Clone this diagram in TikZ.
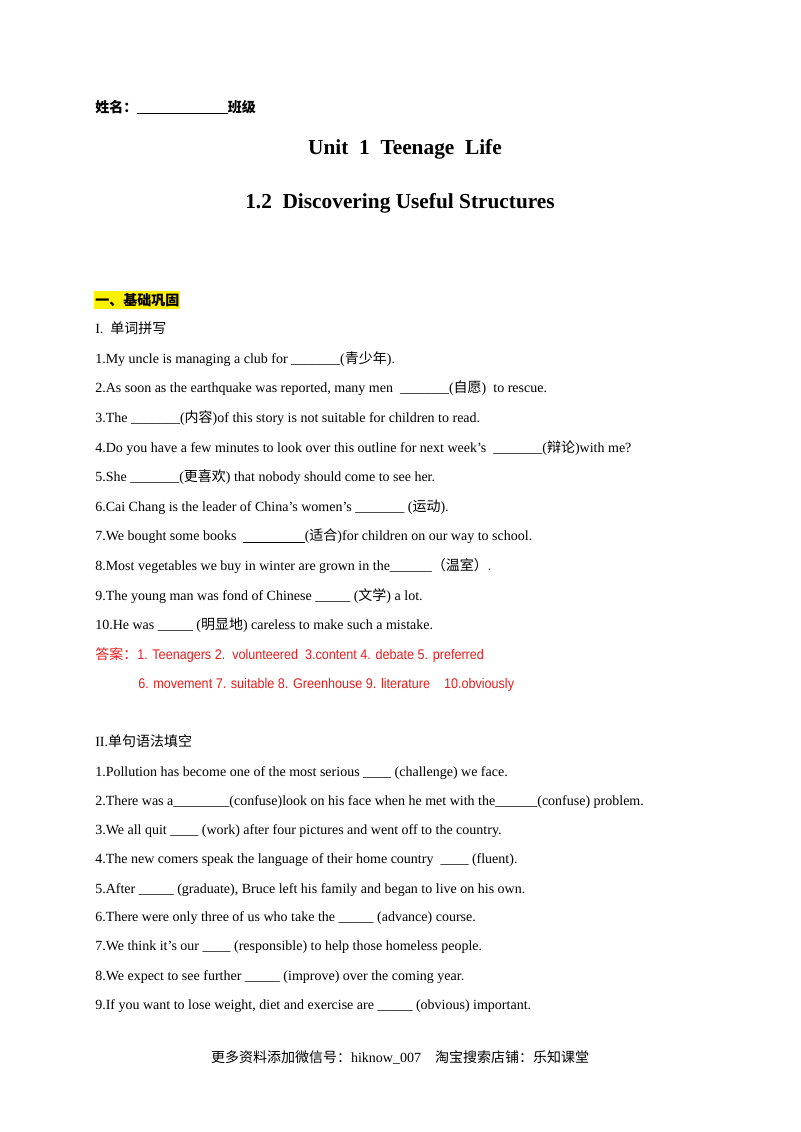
\documentclass[tikz,border=0pt]{standalone}
\usepackage{fontspec}
\setmainfont{Liberation Serif}
\newfontfamily\cjk{Noto Sans CJK SC}
\newfontfamily\arial[FakeStretch=0.9]{Liberation Sans}
\newcommand{\zh}[1]{{\cjk #1}}
\newcommand{\apos}{{\char"27}}
\begin{document}
\begin{tikzpicture}[x=0.75pt,y=-0.75pt,
  ln/.style={anchor=base west,inner sep=0pt,font=\fontsize{10.5}{12}\selectfont},
  ans/.style={ln,text={rgb,255:red,230;green,30;blue,30},font=\fontsize{10.5}{12}\selectfont\arial},
  ttl/.style={anchor=base,inner sep=0pt,font=\fontsize{16}{18}\selectfont\bfseries}]
\useasboundingbox[fill=white] (0,0) rectangle (800,1132);
\node[ln,font=\fontsize{10.5}{12}\selectfont\bfseries] (name) at (95,112) {\zh{姓名：}\rule[-1.5pt]{68pt}{0.6pt}\zh{班级}};
\node[ttl] (t1) at (405,154) {Unit\ \ 1\ \ Teenage\ \ Life};
\node[ttl] (t2) at (400,208) {1.2\ \ Discovering Useful Structures};
\fill[yellow] (94,291) rectangle (180,309);
\node[ln,font=\fontsize{10.5}{12}\selectfont\bfseries] (s1) at (95,305) {\zh{一、基础巩固}};
\node[ln] (a0) at (95,333) {I.\ \ \zh{单词拼写}};
\node[ln] (a1) at (95,363) {1.My uncle is managing a club for \_\_\_\_\_\_\_(\zh{青少年}).};
\node[ln] (a2) at (95,392) {2.As soon as the earthquake was reported, many men\ \ \_\_\_\_\_\_\_(\zh{自愿})\ \ to rescue.};
\node[ln] (a3) at (95,422) {3.The \_\_\_\_\_\_\_(\zh{内容})of this story is not suitable for children to read.};
\node[ln] (a4) at (95,452) {4.Do you have a few minutes to look over this outline for next week\apos s\ \ \_\_\_\_\_\_\_(\zh{辩论})with me?};
\node[ln] (a5) at (95,481) {5.She \_\_\_\_\_\_\_(\zh{更喜欢}) that nobody should come to see her.};
\node[ln] (a6) at (95,511) {6.Cai Chang is the leader of China\apos s women\apos s \_\_\_\_\_\_\_ (\zh{运动}).};
\node[ln] (a7) at (95,540) {7.We bought some books\ \ \underline{\hspace{46pt}}(\zh{适合})for children on our way to school.};
\node[ln] (a8) at (95,570) {8.Most vegetables we buy in winter are grown in the\_\_\_\_\_\_\zh{（温室）}.};
\node[ln] (a9) at (95,600) {9.The young man was fond of Chinese \_\_\_\_\_ (\zh{文学}) a lot.};
\node[ln] (a10) at (95,629) {10.He was \_\_\_\_\_ (\zh{明显地}) careless to make such a mistake.};
\node[ans] (k1) at (95,659) {\zh{答案：}1. Teenagers 2.\ \ volunteered\ \ 3.content 4. debate 5. preferred};
\node[ans] (k2) at (138,688) {6. movement 7. suitable 8. Greenhouse 9. literature\ \ \ \ 10.obviously};
\node[ln] (b0) at (95,746) {II.\zh{单句语法填空}};
\node[ln] (b1) at (95,776) {1.Pollution has become one of the most serious \_\_\_\_ (challenge) we face.};
\node[ln] (b2) at (95,805) {2.There was a\_\_\_\_\_\_\_\_(confuse)look on his face when he met with the\_\_\_\_\_\_(confuse) problem.};
\node[ln] (b3) at (95,834) {3.We all quit \_\_\_\_ (work) after four pictures and went off to the country.};
\node[ln] (b4) at (95,863) {4.The new comers speak the language of their home country\ \ \_\_\_\_ (fluent).};
\node[ln] (b5) at (95,893) {5.After \_\_\_\_\_ (graduate), Bruce left his family and began to live on his own.};
\node[ln] (b6) at (95,921) {6.There were only three of us who take the \_\_\_\_\_ (advance) course.};
\node[ln] (b7) at (95,950) {7.We think it’s our \_\_\_\_ (responsible) to help those homeless people.};
\node[ln] (b8) at (95,980) {8.We expect to see further \_\_\_\_\_ (improve) over the coming year.};
\node[ln] (b9) at (95,1009) {9.If you want to lose weight, diet and exercise are \_\_\_\_\_ (obvious) important.};
\node[ttl,font=\fontsize{10.5}{12}\selectfont] (foot) at (400,1062) {\zh{更多资料添加微信号：}hiknow\_007\ \ \ \ \zh{淘宝搜索店铺：乐知课堂}};
\end{tikzpicture}
\end{document}
